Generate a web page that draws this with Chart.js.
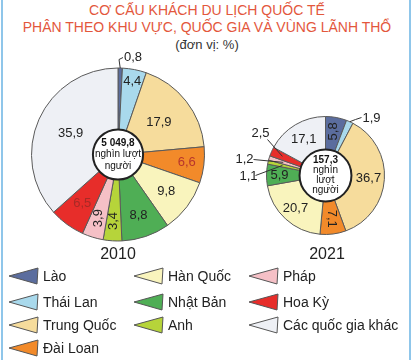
<!DOCTYPE html>
<html lang="vi">
<head>
<meta charset="utf-8">
<title>Cơ cấu khách du lịch quốc tế</title>
<script src="https://cdn.jsdelivr.net/npm/chart.js@4.4.1/dist/chart.umd.min.js"></script>
<style>
  html, body { margin: 0; padding: 0; background: #fff; }
  body { width: 414px; height: 360px; position: relative; overflow: hidden;
         font-family: "Liberation Sans", Arial, sans-serif; color: #222; }
  .frame { position: absolute; top: 0; bottom: 0; width: 2px; background: #8fc6ea; }
  .title { position: absolute; left: 0; width: 414px; text-align: center;
           color: #e3573c; font-size: 14px; line-height: 16px; }
  .unit { position: absolute; left: 0; width: 414px; top: 37px; text-align: center;
          font-size: 13px; color: #333; }
  .pie { position: absolute; }
  .year { position: absolute; top: 245px; width: 60px; text-align: center; font-size: 16px; color: #222; }
  .lg { position: absolute; height: 18px; line-height: 18px; font-size: 14px; color: #222; white-space: nowrap; }
  .lg svg { position: absolute; left: 0; top: 0; }
  .lg span { position: absolute; left: 35px; top: 0; }
</style>
</head>
<body>
<div class="frame" style="left:1px"></div>
<div class="frame" style="left:409px"></div>

<div class="title" style="top:2px">CƠ CẤU KHÁCH DU LỊCH QUỐC TẾ</div>
<div class="title" style="top:19px">PHÂN THEO KHU VỰC, QUỐC GIA VÀ VÙNG LÃNH THỔ</div>
<div class="unit">(đơn vị: %)</div>

<canvas id="pie2010" class="pie" width="222" height="215" style="left:10px;top:45px"></canvas>
<canvas id="pie2021" class="pie" width="180" height="165" style="left:228px;top:95px"></canvas>

<div class="year" style="left:88px">2010</div>
<div class="year" style="left:297px">2021</div>

<div id="legend"></div>

<script>
// markets, in the order the slices run clockwise from the top
const countries = ["Lào", "Thái Lan", "Trung Quốc", "Đài Loan", "Hàn Quốc",
                   "Nhật Bản", "Anh", "Pháp", "Hoa Kỳ", "Các quốc gia khác"];
const years = ["2010", "2021"];
const share2010 = [0.8, 4.4, 17.9, 6.6, 9.8, 8.8, 3.4, 3.9, 6.5, 35.9];
const share2021 = [5.8, 1.9, 36.7, 7.1, 20.7, 5.9, 1.1, 1.2, 2.5, 17.1];
// total arrivals (thousand visitors)
const totals = ["5 049,8", "157,3"];

const sliceColors = ["#5b6d9e", "#a9d9ec", "#f6dc9c", "#f28a2a", "#f9f4bd",
                     "#4fae55", "#b6d43a", "#f5c0c6", "#e72d2a", "#eef0f5"];

// where each value label goes: r = fraction of the radius along the slice middle,
// rot = text rotation in degrees; "path" labels get a leader line
const layout2010 = [
  { anchor: 1.0, path: [[1, -95], [5, -97]], text: [15, -97] },
  { r: 0.86 },
  { r: 0.6 },
  { r: 0.8, color: "#b8352c" },
  { r: 0.7 },
  { r: 0.74 },
  { r: 0.77, rot: -90 },
  { r: 0.77, rot: -90 },
  { r: 0.7, color: "#a82a26" },
  { r: 0.6 }
];
const layout2021 = [
  { r: 0.76, rot: -90 },
  { anchor: 1.0, path: [[30, -56], [36, -58]], text: [46, -57] },
  { r: 0.73 },
  { r: 0.74, rot: 90 },
  { r: 0.75 },
  { r: 0.78 },
  { anchor: 0.75, path: [[-70, 0]], text: [-77, 1] },
  { anchor: 0.75, path: [[-72, -16]], text: [-81, -16] },
  { anchor: 0.8, path: [[-58, -36]], text: [-65, -42] },
  { r: 0.72 }
];

function fmt(v) {
  return v.toFixed(1).replace(".", ",");
}

const sliceLabels = {
  id: "sliceLabels",
  afterDatasetsDraw(chart, args, opts) {
    const ctx = chart.ctx;
    const meta = chart.getDatasetMeta(0);
    const values = chart.data.datasets[0].data;
    ctx.save();
    ctx.font = "13px 'Liberation Sans', Arial, sans-serif";
    ctx.textAlign = "center";
    ctx.textBaseline = "middle";
    ctx.lineWidth = 1;
    ctx.strokeStyle = "#333";
    meta.data.forEach((arc, i) => {
      const spec = opts.layout[i];
      const p = arc.getProps(["x", "y", "startAngle", "endAngle", "outerRadius"], true);
      const mid = (p.startAngle + p.endAngle) / 2;
      ctx.fillStyle = spec.color || "#222";
      if (spec.path) {
        const ax = p.x + Math.cos(mid) * p.outerRadius * spec.anchor;
        const ay = p.y + Math.sin(mid) * p.outerRadius * spec.anchor;
        ctx.beginPath();
        ctx.moveTo(ax, ay);
        spec.path.forEach((pt) => ctx.lineTo(p.x + pt[0], p.y + pt[1]));
        ctx.stroke();
        ctx.fillText(fmt(values[i]), p.x + spec.text[0], p.y + spec.text[1]);
      } else {
        const r = p.outerRadius * spec.r;
        ctx.save();
        ctx.translate(p.x + Math.cos(mid) * r, p.y + Math.sin(mid) * r);
        if (spec.rot) ctx.rotate(spec.rot * Math.PI / 180);
        ctx.fillText(fmt(values[i]), 0, 0);
        ctx.restore();
      }
    });
    ctx.restore();
  },
  afterDraw(chart, args, opts) {
    // white hub with the total in the middle
    const ctx = chart.ctx;
    const arc = chart.getDatasetMeta(0).data[0];
    const p = arc.getProps(["x", "y", "innerRadius"], true);
    ctx.save();
    ctx.beginPath();
    ctx.arc(p.x, p.y, p.innerRadius, 0, Math.PI * 2);
    ctx.fillStyle = "#fff";
    ctx.fill();
    ctx.lineWidth = 2;
    ctx.strokeStyle = "#222";
    ctx.stroke();
    ctx.fillStyle = "#111";
    ctx.textAlign = "center";
    ctx.textBaseline = "middle";
    const lines = opts.center;
    const step = opts.step;
    const top = p.y - (lines.length - 1) * step / 2;
    lines.forEach((t, k) => {
      ctx.font = (k === 0 ? "bold " : "") + opts.fontSize + "px 'Liberation Sans', Arial, sans-serif";
      ctx.fillText(t, p.x, top + k * step);
    });
    ctx.restore();
  }
};

function drawPie(id, values, cutout, padding, layout, center, fontSize, step) {
  return new Chart(document.getElementById(id), {
    type: "doughnut",
    data: {
      labels: countries,
      datasets: [{
        data: values,
        backgroundColor: sliceColors,
        borderColor: "#5a5a5a",
        borderWidth: 1
      }]
    },
    options: {
      responsive: false,
      animation: false,
      cutout: cutout,
      layout: { padding: padding },
      plugins: {
        legend: { display: false },
        tooltip: { enabled: false },
        sliceLabels: { layout: layout, center: center, fontSize: fontSize, step: step }
      }
    },
    plugins: [sliceLabels]
  });
}

drawPie("pie2010", share2010, "29%", { left: 21, right: 27, top: 22, bottom: 18 },
        layout2010, [totals[0], "nghìn lượt", "người"], 10, 11.5);
drawPie("pie2021", share2021, "44%", { left: 38, right: 23, top: 21, bottom: 25 },
        layout2021, [totals[1], "nghìn", "lượt", "người"], 10, 10);

// legend: three columns of left-pointing wedges
const legendCols = [[0, 1, 2, 3], [4, 5, 6], [7, 8, 9]];
const colX = [8, 133, 248];
const rowY = [267, 293, 316, 339];
const legend = document.getElementById("legend");
legendCols.forEach((col, c) => {
  col.forEach((idx, r) => {
    const item = document.createElement("div");
    item.className = "lg";
    item.style.left = colX[c] + "px";
    item.style.top = rowY[r] + "px";
    item.innerHTML =
      '<svg width="32" height="18"><polygon points="1,9 30,1 29,17" fill="' + sliceColors[idx] +
      '" stroke="#555" stroke-width="1"/></svg><span>' + countries[idx] + "</span>";
    legend.appendChild(item);
  });
});
</script>
</body>
</html>
